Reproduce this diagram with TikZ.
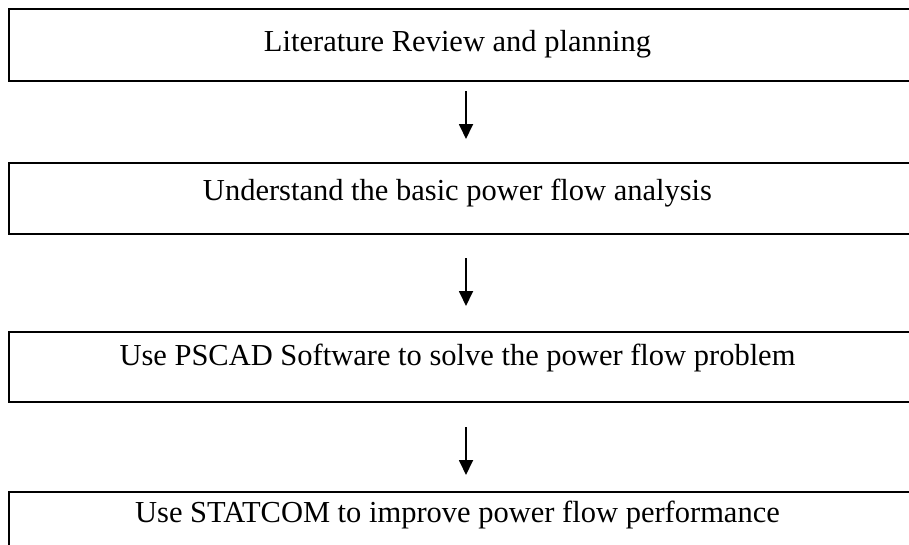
\documentclass[tikz,border=0pt]{standalone}
\usepackage{fontspec}
\setmainfont{Liberation Serif}
\usetikzlibrary{arrows.meta}
\begin{document}
\begin{tikzpicture}[x=1pt,y=-1pt,
  box/.style={draw=black,line width=1.7pt,inner sep=0pt},
  lbl/.style={font=\fontsize{30.5}{36}\selectfont,inner sep=0pt,anchor=base},
  arr/.style={line width=1.8pt,-{Triangle[length=15pt,width=14pt]}}]
\useasboundingbox (0,0) rectangle (909,544);
\clip (0,0) rectangle (909,544);
\draw[box] (9,9) rectangle (930,81);
\draw[box] (9,163) rectangle (930,234);
\draw[box] (9,332) rectangle (930,402);
\draw[box] (9,492) rectangle (930,570);
\node[lbl] (t1) at (457.5,51) {Literature Review and planning};
\node[lbl] (t2) at (457.5,200) {Understand the basic power flow analysis};
\node[lbl] (t3) at (457.5,365) {Use PSCAD Software to solve the power flow problem};
\node[lbl] (t4) at (457.5,522) {Use STATCOM to improve power flow performance};
\coordinate (a1s) at (466,91); \coordinate (a1e) at (466,139);
\coordinate (a2s) at (466,258); \coordinate (a2e) at (466,306);
\coordinate (a3s) at (466,427); \coordinate (a3e) at (466,475);
\draw[arr] (a1s) -- (a1e);
\draw[arr] (a2s) -- (a2e);
\draw[arr] (a3s) -- (a3e);
\end{tikzpicture}
\end{document}
